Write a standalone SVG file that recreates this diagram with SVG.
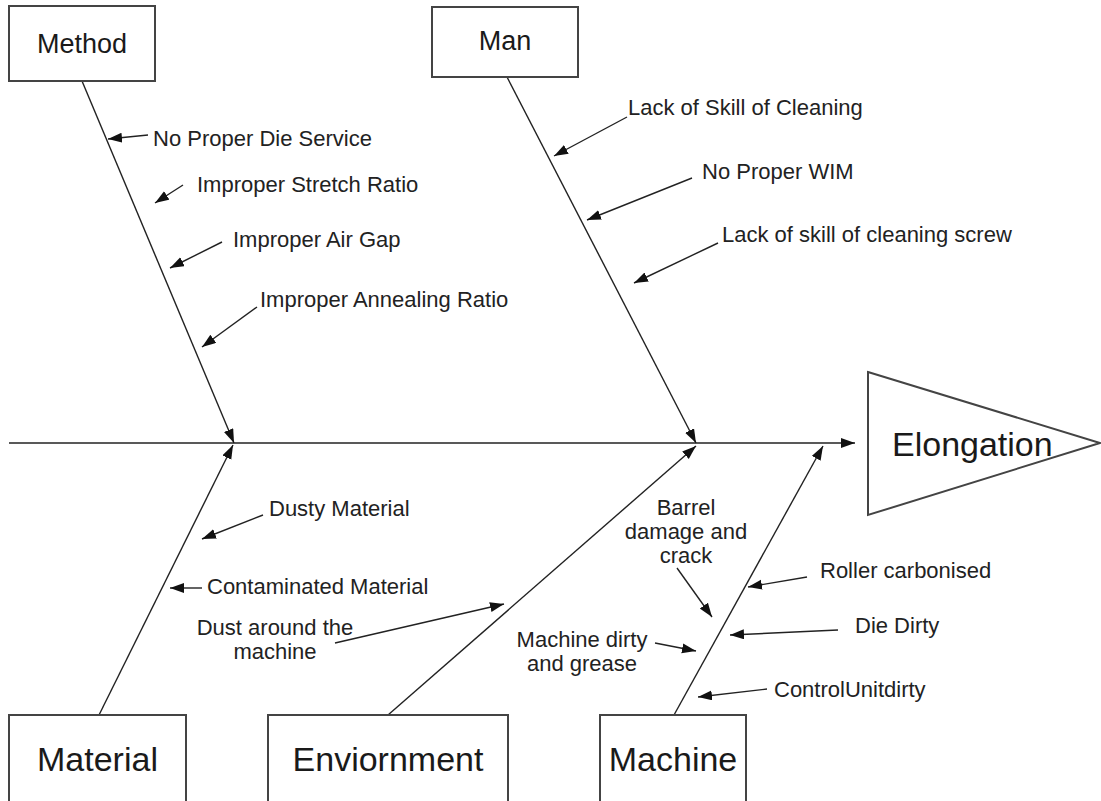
<svg xmlns="http://www.w3.org/2000/svg" width="1101" height="801" viewBox="0 0 1101 801">
<style>
.box{fill:#fff;stroke:#444;stroke-width:2}
.big{font-family:"Liberation Sans",Arial,sans-serif;font-size:34px;fill:#1a1a1a}
.mid{font-family:"Liberation Sans",Arial,sans-serif;font-size:27px;fill:#1a1a1a}
.lbl{font-family:"Liberation Sans",Arial,sans-serif;font-size:22px;fill:#222}
.ln{stroke:#222;stroke-width:1.4;fill:none}
.ar{marker-end:url(#ah)}
</style>
<defs>
<marker id="ah" markerUnits="userSpaceOnUse" markerWidth="15" markerHeight="11" refX="14" refY="5" orient="auto">
<path d="M0,0 L14,5 L0,10 z" fill="#111"/>
</marker>
</defs>
<g id="connectors">
<line class="ln ar" x1="9" y1="443" x2="855" y2="443"/>
<line class="ln ar" x1="82" y1="81" x2="234" y2="443"/>
<line class="ln ar" x1="507" y1="77" x2="696" y2="443"/>
<line class="ln ar" x1="99" y1="715" x2="233" y2="445"/>
<line class="ln ar" x1="388" y1="715" x2="696" y2="446"/>
<line class="ln ar" x1="674" y1="715" x2="823" y2="446"/>
<line class="ln ar" x1="148" y1="135" x2="108" y2="139"/>
<line class="ln ar" x1="183" y1="185" x2="155" y2="203"/>
<line class="ln ar" x1="222" y1="242" x2="170" y2="268"/>
<line class="ln ar" x1="257" y1="307" x2="202" y2="347"/>
<line class="ln ar" x1="627" y1="117" x2="554" y2="156"/>
<line class="ln ar" x1="692" y1="178" x2="587" y2="220"/>
<line class="ln ar" x1="718" y1="243" x2="634" y2="283"/>
<line class="ln ar" x1="263" y1="515" x2="202" y2="539"/>
<line class="ln ar" x1="202" y1="588" x2="170" y2="588"/>
<line class="ln ar" x1="335" y1="643" x2="504" y2="604"/>
<line class="ln ar" x1="677" y1="568" x2="712" y2="617"/>
<line class="ln ar" x1="655" y1="643" x2="696" y2="651"/>
<line class="ln ar" x1="807" y1="577" x2="748" y2="587"/>
<line class="ln ar" x1="838" y1="630" x2="730" y2="635"/>
<line class="ln ar" x1="767" y1="689" x2="698" y2="697"/>
</g>
<g id="method">
<rect class="box" x="9" y="6" width="146" height="75"/>
<text class="mid" x="82" y="53" text-anchor="middle">Method</text>
</g>
<g id="man">
<rect class="box" x="432" y="7" width="146" height="70"/>
<text class="mid" x="505" y="50" text-anchor="middle">Man</text>
</g>
<g id="material">
<rect class="box" x="9" y="715" width="177" height="100"/>
<text class="big" x="97.5" y="771" text-anchor="middle">Material</text>
</g>
<g id="enviornment">
<rect class="box" x="268" y="715" width="240" height="100"/>
<text class="big" x="388" y="771" text-anchor="middle">Enviornment</text>
</g>
<g id="machine">
<rect class="box" x="600" y="715" width="146" height="100"/>
<text class="big" x="673" y="771" text-anchor="middle">Machine</text>
</g>
<g id="elongation">
<polygon class="box" points="868,372 1100,443 868,515"/>
<text class="big" x="892" y="456">Elongation</text>
</g>
<g id="labels">
<text class="lbl" x="153" y="146">No Proper Die Service</text>
<text class="lbl" x="197" y="192">Improper Stretch Ratio</text>
<text class="lbl" x="233" y="247">Improper Air Gap</text>
<text class="lbl" x="260" y="307">Improper Annealing Ratio</text>
<text class="lbl" x="628" y="115">Lack of Skill of Cleaning</text>
<text class="lbl" x="702" y="179">No Proper WIM</text>
<text class="lbl" x="722" y="242">Lack of skill of cleaning screw</text>
<text class="lbl" x="269" y="516">Dusty Material</text>
<text class="lbl" x="207" y="594">Contaminated Material</text>
<text class="lbl" x="275" y="635" text-anchor="middle">Dust around the</text>
<text class="lbl" x="275" y="659" text-anchor="middle">machine</text>
<text class="lbl" x="686" y="515" text-anchor="middle">Barrel</text>
<text class="lbl" x="686" y="539" text-anchor="middle">damage and</text>
<text class="lbl" x="686" y="563" text-anchor="middle">crack</text>
<text class="lbl" x="582" y="647" text-anchor="middle">Machine dirty</text>
<text class="lbl" x="582" y="671" text-anchor="middle">and grease</text>
<text class="lbl" x="820" y="578">Roller carbonised</text>
<text class="lbl" x="855" y="633">Die Dirty</text>
<text class="lbl" x="774" y="697">ControlUnitdirty</text>
</g>
</svg>
